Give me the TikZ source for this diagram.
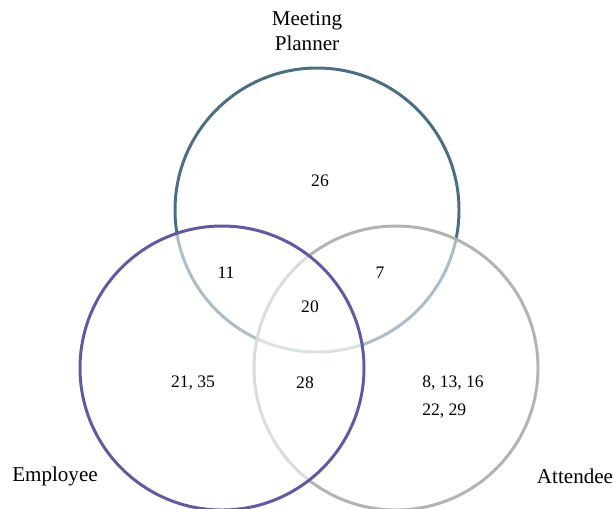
\documentclass[tikz,border=0pt]{standalone}
\usepackage{fontspec}
\setmainfont{Liberation Serif}
\usepackage{tikz}
\usetikzlibrary{positioning}
\definecolor{plannerblue}{RGB}{75,110,132}
\definecolor{employeepurple}{RGB}{95,90,162}
\definecolor{attendeegray}{RGB}{179,179,179}
\tikzset{
  setring/.style={line width=1.7pt},
  veil/.style={fill=white, fill opacity=0.55},
  setname/.style={font=\fontsize{12}{14}\selectfont, align=center},
  count/.style={font=\fontsize{10}{16}\selectfont, align=left}
}

\begin{document}
\begin{tikzpicture}[x=0.02cm, y=-0.02cm]
  \useasboundingbox (0,0) rectangle (614,508);
  \clip (0,0) rectangle (614,508);

  % the three sets, each one veiling the rings below it
  \draw[setring, draw=plannerblue] (317,210) coordinate (planner) circle [radius=142];
  \fill[veil] (396,368) circle [radius=142];
  \draw[setring, draw=attendeegray] (396,368) coordinate (attendee) circle [radius=142];
  \fill[veil] (222,368) circle [radius=142];
  \draw[setring, draw=employeepurple] (222,368) coordinate (employee) circle [radius=142];

  % set names
  \node[setname] (plannerlbl)  at (307,31)  {Meeting\\Planner};
  \node[setname] (employeelbl) at (55,476)  {Employee};
  \node[setname] (attendeelbl) at (575,476) {Attendee};

  % regions
  \node[count] (ponly)  at (320,181) {26};
  \node[count] (pe)     at (226,273) {11};
  \node[count] (pa)     at (380,273) {7};
  \node[count] (pea)    at (310,307) {20};
  \node[count] (eonly)  at (193,383) {21, 35};
  \node[count] (ea)     at (305,383) {28};
  \node[count] (aonly)  at (453,397) {8, 13, 16\\22, 29};
\end{tikzpicture}
\end{document}
